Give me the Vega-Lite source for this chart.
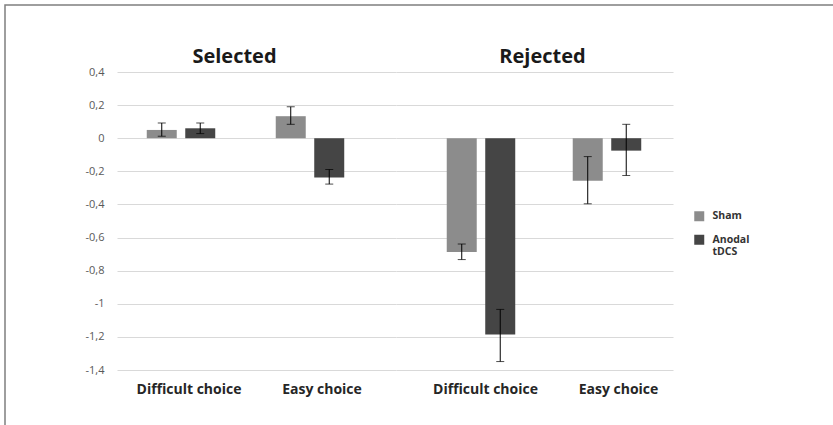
{
  "$schema": "https://vega.github.io/schema/vega-lite/v6.json",
  "background": "white",
  "padding": {"left": 4, "top": 4, "right": -2, "bottom": -2},
  "data": {"values": [
    {"cond": "Selected", "choice": "Difficult choice", "group": "Sham", "mean": 0.05, "lo": 0.012, "hi": 0.092},
    {"cond": "Selected", "choice": "Difficult choice", "group": "Anodal tDCS", "mean": 0.06, "lo": 0.028, "hi": 0.092},
    {"cond": "Selected", "choice": "Easy choice", "group": "Sham", "mean": 0.133, "lo": 0.084, "hi": 0.19},
    {"cond": "Selected", "choice": "Easy choice", "group": "Anodal tDCS", "mean": -0.237, "lo": -0.277, "hi": -0.189},
    {"cond": "Rejected", "choice": "Difficult choice", "group": "Sham", "mean": -0.687, "lo": -0.733, "hi": -0.639},
    {"cond": "Rejected", "choice": "Difficult choice", "group": "Anodal tDCS", "mean": -1.185, "lo": -1.349, "hi": -1.034},
    {"cond": "Rejected", "choice": "Easy choice", "group": "Sham", "mean": -0.257, "lo": -0.396, "hi": -0.111},
    {"cond": "Rejected", "choice": "Easy choice", "group": "Anodal tDCS", "mean": -0.075, "lo": -0.225, "hi": 0.084}
  ]},
  "columns": 2,
  "align": "none",
  "spacing": -830,
  "concat": [
    {
      "width": 829,
      "height": 421,
      "data": {"values": []},
      "mark": {"type": "point"},
      "view": {"stroke": "#7f7f7f", "strokeWidth": 1.5}
    },
    {
      "spacing": 41,
      "vconcat": [
        {
          "width": 1,
          "height": 1,
          "data": {"values": []},
          "mark": {"type": "point"}
        },
        {
          "spacing": 0,
          "hconcat": [
            {
              "width": 279,
              "height": 298,
              "title": {"text": "Selected", "dx": -22, "dy": 6},
              "transform": [{"filter": "datum.cond === 'Selected'"}],
              "encoding": {
                "x": {"field": "choice", "type": "nominal", "sort": ["Difficult choice", "Easy choice"],
                      "scale": {"paddingInner": 0.469, "paddingOuter": 0.316, "align": 0.365},
                      "axis": {"labelOffset": {"condition": {"test": "datum.value === 'Easy choice'", "value": 12}, "value": 8}}},
                "xOffset": {"field": "group", "type": "nominal", "sort": ["Sham", "Anodal tDCS"],
                            "scale": {"paddingInner": 0.2208, "paddingOuter": 0}}
              },
              "layer": [
                {
                  "mark": {"type": "bar"},
                  "encoding": {
                    "y": {"field": "mean", "type": "quantitative",
                          "scale": {"domain": [-1.4, 0.4], "nice": false, "zero": false},
                          "axis": {"values": [-1.4, -1.2, -1, -0.8, -0.6, -0.4, -0.2, 0, 0.2, 0.4], "tickCount": 20,
                                   "labelExpr": "replace(replace(format(datum.value, '.1~f'), '.', ','), '−', '-')",
                                   "domain": false, "ticks": false, "tickSize": 0, "labelPadding": 13,
                                   "grid": true, "gridColor": "#d9d9d9", "gridWidth": 1,
                                   "labelFont": "Open Sans", "labelFontSize": 11, "labelColor": "#595959",
                                   "minExtent": 112, "maxExtent": 112, "title": null}},
                    "color": {"field": "group", "type": "nominal",
                              "scale": {"domain": ["Sham", "Anodal tDCS"], "range": ["#8c8c8c", "#454545"]},
                              "legend": {"orient": "none", "legendX": 689, "legendY": 206, "title": null,
                                         "symbolType": "square", "symbolSize": 100, "symbolStrokeWidth": 0,
                                         "labelFont": "Open Sans", "labelFontWeight": "bold", "labelFontSize": 10.5,
                                         "labelColor": "#333333", "labelOffset": 8, "rowPadding": 12.5,
                                         "labelExpr": "datum.label == 'Anodal tDCS' ? ['Anodal', 'tDCS'] : datum.label"}}
                  }
                },
                {
                  "mark": {"type": "rule", "color": "#000000", "strokeWidth": 1},
                  "encoding": {"y": {"field": "lo", "type": "quantitative"}, "y2": {"field": "hi"}}
                },
                {
                  "mark": {"type": "tick", "color": "#000000", "size": 8, "thickness": 1},
                  "encoding": {"y": {"field": "lo", "type": "quantitative"}}
                },
                {
                  "mark": {"type": "tick", "color": "#000000", "size": 8, "thickness": 1},
                  "encoding": {"y": {"field": "hi", "type": "quantitative"}}
                }
              ]
            },
            {
              "width": 277,
              "height": 298,
              "title": {"text": "Rejected", "dx": 8},
              "transform": [{"filter": "datum.cond === 'Rejected'"}],
              "encoding": {
                "x": {"field": "choice", "type": "nominal", "sort": ["Difficult choice", "Easy choice"],
                      "scale": {"paddingInner": 0.4563, "paddingOuter": 0.3274, "align": 0.615},
                      "axis": {"labelOffset": {"condition": {"test": "datum.value === 'Easy choice'", "value": 11.5}, "value": 4.5}}},
                "xOffset": {"field": "group", "type": "nominal", "sort": ["Sham", "Anodal tDCS"],
                            "scale": {"paddingInner": 0.2208, "paddingOuter": 0}}
              },
              "layer": [
                {
                  "mark": {"type": "bar"},
                  "encoding": {
                    "y": {"field": "mean", "type": "quantitative",
                          "scale": {"domain": [-1.4, 0.4], "nice": false, "zero": false},
                          "axis": {"values": [-1.4, -1.2, -1, -0.8, -0.6, -0.4, -0.2, 0, 0.2, 0.4], "tickCount": 20,
                                   "labels": false, "domain": false, "ticks": false, "tickSize": 0,
                                   "grid": true, "gridColor": "#d9d9d9", "gridWidth": 1,
                                   "minExtent": 0, "maxExtent": 0, "title": null}},
                    "color": {"field": "group", "type": "nominal",
                              "scale": {"domain": ["Sham", "Anodal tDCS"], "range": ["#8c8c8c", "#454545"]}}
                  }
                },
                {
                  "mark": {"type": "rule", "color": "#000000", "strokeWidth": 1},
                  "encoding": {"y": {"field": "lo", "type": "quantitative"}, "y2": {"field": "hi"}}
                },
                {
                  "mark": {"type": "tick", "color": "#000000", "size": 8, "thickness": 1},
                  "encoding": {"y": {"field": "lo", "type": "quantitative"}}
                },
                {
                  "mark": {"type": "tick", "color": "#000000", "size": 8, "thickness": 1},
                  "encoding": {"y": {"field": "hi", "type": "quantitative"}}
                }
              ]
            }
          ],
          "resolve": {"scale": {"x": "independent", "xOffset": "independent", "y": "shared", "color": "shared"}, "legend": {"color": "shared"}}
        }
      ]
    }
  ],
  "config": {
    "view": {"stroke": null},
    "axisX": {"title": null, "labelAngle": 0, "domain": false, "ticks": false, "tickSize": 0, "grid": false,
              "labelFont": "Open Sans", "labelFontWeight": "bold", "labelFontSize": 14, "labelColor": "#262626",
              "labelPadding": 12},
    "title": {"font": "Open Sans", "fontSize": 20, "fontWeight": "bold", "color": "#1a1a1a", "anchor": "middle", "offset": 5}
  }
}
